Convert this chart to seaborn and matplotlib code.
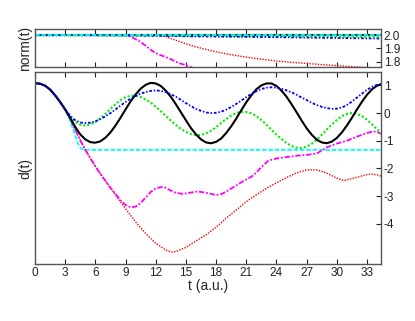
import numpy as np
import pandas as pd
import seaborn as sns
import matplotlib
matplotlib.use('Agg')
import matplotlib.pyplot as plt

# --- data ---
t_half = np.append(np.arange(0, 34.5, 0.5), 34.4)

d_black = [1.08, 1.06, 0.99, 0.85, 0.64, 0.40, 0.13, -0.18, -0.50, -0.77, -0.95, -1.05,
           -1.07, -1.02, -0.89, -0.70, -0.45, -0.17, 0.13, 0.42, 0.67, 0.88, 1.02, 1.09,
           1.07, 0.98, 0.81, 0.59, 0.32, 0.03, -0.26, -0.54, -0.77, -0.95, -1.06, -1.09,
           -1.04, -0.92, -0.72, -0.48, -0.20, 0.10, 0.39, 0.64, 0.86, 1.00, 1.07, 1.07,
           0.98, 0.81, 0.59, 0.32, 0.03, -0.27, -0.55, -0.78, -0.96, -1.06, -1.09, -1.03,
           -0.90, -0.70, -0.45, -0.17, 0.13, 0.41, 0.66, 0.86, 0.99, 1.04]

d_green = [1.08, 1.06, 0.99, 0.85, 0.64, 0.40, 0.13, -0.14, -0.32, -0.42, -0.45, -0.41,
           -0.32, -0.19, -0.03, 0.15, 0.32, 0.47, 0.57, 0.625, 0.62, 0.58, 0.49, 0.38,
           0.23, 0.07, -0.10, -0.27, -0.43, -0.57, -0.68, -0.76, -0.80, -0.79, -0.735, -0.64,
           -0.51, -0.36, -0.22, -0.09, 0.0, 0.045, 0.04, -0.01, -0.11, -0.25, -0.42, -0.60,
           -0.78, -0.94, -1.08, -1.19, -1.25, -1.26, -1.21, -1.11, -0.97, -0.79, -0.60, -0.41,
           -0.25, -0.11, -0.03, 0.0, -0.03, -0.11, -0.24, -0.41, -0.59, -0.74]

d_blue = [1.08, 1.06, 0.99, 0.85, 0.64, 0.40, 0.13, -0.10, -0.26, -0.34, -0.36, -0.345,
          -0.30, -0.22, -0.12, 0.0, 0.13, 0.27, 0.40, 0.52, 0.62, 0.70, 0.76, 0.80,
          0.82, 0.80, 0.76, 0.68, 0.59, 0.48, 0.36, 0.25, 0.15, 0.08, 0.02, 0.0,
          0.01, 0.05, 0.12, 0.22, 0.33, 0.45, 0.575, 0.69, 0.79, 0.87, 0.915, 0.93,
          0.92, 0.88, 0.82, 0.75, 0.66, 0.56, 0.47, 0.37, 0.29, 0.225, 0.18, 0.155,
          0.16, 0.20, 0.29, 0.415, 0.56, 0.70, 0.84, 0.945, 1.02, 1.04]

t_red = [0, 0.5, 1, 1.5, 2, 2.5, 3, 3.5, 4, 4.5, 5, 5.5, 6, 7, 8, 9, 10, 11, 12, 13, 13.6,
         14, 15, 16, 17, 18, 19, 20, 21, 22, 23, 24, 25, 26, 27, 28, 29, 30, 30.7, 32, 33,
         33.4, 34, 34.4]
d_red = [1.08, 1.06, 0.99, 0.85, 0.64, 0.40, 0.13, -0.20, -0.60, -0.98, -1.33, -1.63, -1.92,
         -2.45, -2.95, -3.45, -3.93, -4.35, -4.70, -4.95, -5.02, -5.00, -4.85, -4.62, -4.40,
         -4.12, -3.80, -3.50, -3.20, -2.95, -2.72, -2.52, -2.33, -2.16, -2.05, -2.05, -2.17,
         -2.35, -2.44, -2.32, -2.22, -2.20, -2.23, -2.28]

t_mag = [0, 0.5, 1, 1.5, 2, 2.5, 3, 3.5, 4, 4.5, 5, 5.5, 6, 6.5, 7, 7.5, 8, 8.5, 9, 9.5,
         10, 10.5, 11, 11.5, 12, 12.6, 13, 13.5, 14, 14.7, 15.5, 16.2, 17, 18, 18.5, 19,
         19.7, 20.7, 21.5, 22, 22.5, 23.2, 24, 25, 26, 27, 28, 29, 30, 31, 32, 33, 33.6,
         34, 34.4]
d_mag = [1.08, 1.06, 0.99, 0.85, 0.64, 0.40, 0.13, -0.20, -0.60, -0.98, -1.33, -1.63,
         -1.92, -2.20, -2.45, -2.70, -2.92, -3.15, -3.32, -3.40, -3.38, -3.25, -3.05, -2.85,
         -2.72, -2.67, -2.70, -2.80, -2.88, -2.92, -2.87, -2.83, -2.88, -2.96, -2.93, -2.84,
         -2.68, -2.46, -2.30, -2.15, -1.95, -1.72, -1.64, -1.59, -1.54, -1.51, -1.46, -1.24,
         -1.10, -1.00, -0.85, -0.72, -0.66, -0.68, -0.75]

t_cyan = [0, 0.5, 1, 1.5, 2, 2.5, 3, 3.5, 4, 4.3, 4.6, 5, 34.4]
d_cyan = [1.08, 1.06, 0.99, 0.85, 0.64, 0.40, 0.12, -0.28, -0.80, -1.12, -1.29, -1.33, -1.33]

# norm(t)
t_nblack = [0, 34.4]
n_black = [2.0, 2.0]
t_ncyan = [0, 34.4]
n_cyan = [2.001, 2.001]
t_ngreen = [0, 10, 20, 34.4]
n_green = [2.0, 1.998, 1.994, 1.99]
t_nblue = [0, 5, 10, 15, 20, 25, 30, 34.4]
n_blue = [2.0, 2.0, 1.997, 1.992, 1.988, 1.984, 1.979, 1.975]
t_nmag = [0, 9, 9.5, 10, 10.5, 11, 11.5, 12, 12.5, 13, 13.5, 14, 14.5, 15, 15.5, 16]
n_mag = [2.0, 2.0, 1.99, 1.97, 1.95, 1.92, 1.89, 1.865, 1.85, 1.835, 1.82, 1.80, 1.785,
         1.775, 1.76, 1.745]
t_nred = [0, 12.5, 13, 13.5, 14, 15, 16, 17, 18, 19, 20, 21, 22, 23, 24, 25, 26, 27, 28,
          29, 30, 31, 32, 33, 34.4]
n_red = [2.0, 2.0, 1.99, 1.975, 1.962, 1.935, 1.912, 1.893, 1.875, 1.86, 1.847, 1.835,
         1.825, 1.815, 1.806, 1.799, 1.793, 1.787, 1.782, 1.776, 1.771, 1.766, 1.761,
         1.757, 1.752]

x_ticks = [0, 3, 6, 9, 12, 15, 18, 21, 24, 27, 30, 33]
d_ticks = [1, 0, -1, -2, -3, -4]
n_ticks = [2.0, 1.9, 1.8]

# --- styles ---
sns.set_style('ticks')
plt.rcParams['font.family'] = ['Liberation Sans', 'DejaVu Sans']

styles = {
    'cyan':    dict(color='#00ffff', lw=1.3, ls=(0, (2.5, 1))),
    'red':     dict(color='#ff0000', lw=1.0, ls=(0, (1, 1))),
    'magenta': dict(color='#ff00ff', lw=1.3, ls=(0, (3, 1, 1, 1))),
    'green':   dict(color='#00ee00', lw=1.5, ls=(0, (1, 1))),
    'black':   dict(color='black', lw=1.5, ls='-'),
    'blue':    dict(color='#0000ff', lw=1.3, ls=(0, (1.5, 1, 0.8, 1))),
}

fig = plt.figure(figsize=(4.15, 3.21), dpi=100)
ax_n = fig.add_axes([0.0843, 0.791, 0.834, 0.118])
ax = fig.add_axes([0.0843, 0.1776, 0.834, 0.597])

main = [(t_cyan, d_cyan, 'cyan'), (t_red, d_red, 'red'), (t_mag, d_mag, 'magenta'),
        (t_half, d_green, 'green'), (t_half, d_black, 'black'), (t_half, d_blue, 'blue')]
for tt, dd, name in main:
    s = styles[name]
    sns.lineplot(x=np.asarray(tt, dtype=float), y=dd, ax=ax, sort=False, errorbar=None,
                 color=s['color'], linewidth=s['lw'], linestyle=s['ls'])

norms = [(t_nred, n_red, 'red'), (t_nmag, n_mag, 'magenta'), (t_nblack, n_black, 'black'),
         (t_ngreen, n_green, 'green'), (t_nblue, n_blue, 'blue'), (t_ncyan, n_cyan, 'cyan')]
for tt, nn, name in norms:
    s = styles[name]
    sns.lineplot(x=np.asarray(tt, dtype=float), y=nn, ax=ax_n, sort=False, errorbar=None,
                 color=s['color'], linewidth=s['lw'], linestyle=s['ls'])

for a in (ax, ax_n):
    a.set_xlim(0, 34.4)
    a.set_xticks(x_ticks)
    a.yaxis.tick_right()
    a.tick_params(direction='in', length=3.5, width=0.8, top=True, bottom=True,
                  left=False, right=True, labelsize=8.5, pad=2, colors='#222222')
    for sp in a.spines.values():
        sp.set_visible(True)
        sp.set_color('#555555')
        sp.set_linewidth(1.0)

ax.set_ylim(-5.45, 1.47)
ax.set_yticks(d_ticks)
ax.set_yticklabels([str(v) for v in d_ticks])
ax.set_xlabel('t (a.u.)', fontsize=10, labelpad=0)
ax.set_ylabel('d(t)', fontsize=10, labelpad=2)
ax.yaxis.set_label_position('left')

ax_n.set_ylim(1.76, 2.045)
ax_n.set_yticks(n_ticks)
ax_n.set_yticklabels(['2.0', '1.9', '1.8'])
ax_n.tick_params(labelbottom=False)
ax_n.set_xlabel('')
ax_n.set_ylabel('norm(t)', fontsize=10, labelpad=2)
ax_n.yaxis.set_label_position('left')

fig.savefig('out.png', dpi=100)
